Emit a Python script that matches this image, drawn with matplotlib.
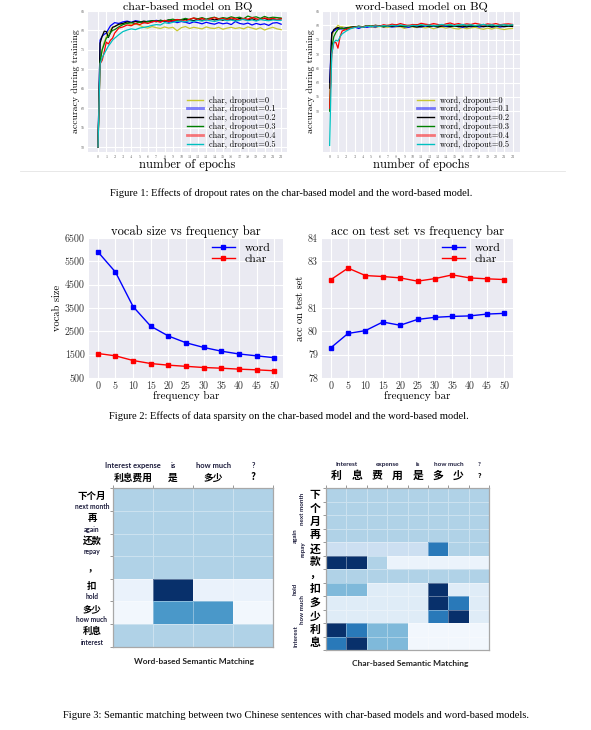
import matplotlib
matplotlib.use('Agg')
import matplotlib.pyplot as plt
from matplotlib.lines import Line2D
from matplotlib import transforms as mtrans

# ---------------- data ----------------
epochs = [0, 0.25, 0.5, 0.75, 1, 1.25, 1.5, 1.75, 2, 2.5, 3, 3.5, 4, 4.5, 5, 5.5, 6, 6.5,
          7, 7.5, 8, 8.5, 9, 9.5, 10, 10.5, 11, 11.5, 12, 12.5, 13, 13.5, 14, 14.5, 15, 15.5,
          16, 16.5, 17, 17.5, 18, 18.5, 19, 19.5, 20, 20.5, 21, 21.5, 22]
epoch_ticks = list(range(23))
acc_ticks = [50, 55, 60, 65, 70, 75, 80, 85]

char_d0 = [50, 72, 75, 77, 78.4, 79.5, 80.2, 80.8, 81.0, 81.5, 81.6, 81.9, 81.4, 81.7, 81.3, 80.8, 80.6, 81.0, 80.7,
           80.5, 80.9, 80.6, 80.8, 79.9, 80.7, 81.0, 80.5, 80.8, 80.6, 80.4, 80.9, 80.6, 80.5, 80.8, 80.3, 80.6, 80.8,
           80.5, 80.7, 80.4, 80.9, 80.6, 80.3, 80.7, 80.1, 80.5, 80.8, 80.4, 80.2]
char_d1 = [50, 77.5, 78.5, 79, 79.3, 80.3, 81.2, 81.6, 82.0, 81.8, 82.2, 82.4, 82.1, 82.5, 82.3, 82.0, 82.4, 82.2, 82.6,
           82.3, 82.5, 82.1, 82.4, 82.0, 82.3, 82.1, 81.8, 82.2, 82.0, 81.7, 82.1, 81.8, 81.6, 82.0, 81.7, 81.9, 81.5,
           82.3, 81.8, 81.6, 81.9, 81.4, 81.8, 81.5, 81.7, 81.3, 81.9, 82.0, 81.6]
char_d2 = [50, 76.7, 78.5, 79.8, 79.7, 78.2, 79.5, 80.8, 81.0, 81.6, 81.8, 82.2, 82.0, 82.3, 82.1, 82.4, 82.2, 82.5, 82.3,
           82.6, 82.4, 82.7, 82.5, 82.8, 82.6, 82.9, 82.7, 82.5, 82.9, 82.6, 82.8, 83.0, 82.7, 82.9, 82.6, 83.0, 82.8,
           82.6, 83.1, 82.8, 82.7, 83.0, 82.6, 82.9, 83.1, 82.7, 82.9, 82.8, 83.0]
char_d3 = [50, 71.8, 75, 76.5, 78.0, 78.5, 79.4, 80.0, 80.2, 80.9, 81.5, 81.8, 82.0, 81.7, 82.2, 82.0, 82.3, 82.5, 82.2,
           82.6, 82.4, 82.7, 82.9, 82.6, 82.8, 83.1, 82.8, 83.2, 83.0, 83.3, 82.9, 83.2, 83.4, 83.0, 83.3, 83.1, 83.5,
           83.2, 83.4, 83.0, 83.7, 83.3, 83.5, 83.1, 83.6, 83.2, 83.4, 83.3, 83.2]
char_d4 = [50, 71.4, 72.3, 74.5, 77.0, 76.5, 77.5, 78.0, 79.3, 80.6, 80.9, 81.4, 81.2, 81.8, 81.5, 82.0, 81.8, 82.2, 82.4,
           82.1, 82.6, 82.3, 82.5, 82.8, 82.6, 82.4, 82.9, 83.2, 82.8, 83.1, 82.7, 83.0, 83.3, 82.9, 83.1, 82.8, 83.2,
           83.0, 82.7, 83.1, 82.9, 83.3, 83.0, 82.8, 83.2, 82.9, 83.1, 82.8, 83.0]
char_d5 = [50, 71.4, 73.0, 74.0, 75.0, 76.0, 76.7, 77.5, 78.0, 78.9, 79.7, 80.1, 80.4, 80.2, 80.6, 80.8, 81.0, 81.3, 81.5,
           81.4, 82.0, 81.8, 82.1, 82.3, 82.4, 82.2, 82.5, 82.3, 82.6, 82.4, 82.7, 82.5, 82.3, 82.6, 82.8, 82.5, 82.7,
           82.4, 82.6, 82.9, 82.5, 82.7, 82.4, 82.8, 82.6, 82.5, 82.7, 82.6, 82.6]

word_d0 = [50, 76, 78, 79, 80.0, 79.5, 79.5, 79.3, 79.2, 79.5, 79.4, 79.6, 79.3, 79.7, 79.5, 79.2, 79.6, 79.4, 79.3,
           79.6, 79.4, 79.5, 78.9, 79.3, 79.5, 79.2, 79.4, 79.1, 79.3, 78.8, 79.2, 79.4, 79.0, 79.3, 78.9, 78.7, 79.2,
           78.8, 79.1, 79.3, 78.9, 78.6, 79.0, 78.7, 79.1, 78.8, 78.5, 78.8, 78.9]
word_d1 = [60, 77.5, 78, 78.5, 79.0, 78.8, 78.7, 79.0, 79.1, 79.2, 79.4, 78.9, 79.5, 79.3, 79.6, 79.4, 79.8, 79.5, 79.7,
           79.4, 79.6, 79.8, 79.5, 79.3, 79.7, 79.6, 79.4, 79.8, 79.5, 79.7, 79.4, 79.9, 79.6, 79.5, 79.8, 79.6, 79.3,
           79.7, 79.5, 79.8, 79.4, 79.6, 79.9, 79.5, 79.7, 79.4, 79.6, 79.8, 79.7]
word_d2 = [58, 77, 78.5, 79, 79.2, 79.0, 79.0, 78.8, 79.0, 79.3, 79.5, 79.6, 79.4, 79.8, 79.6, 79.9, 79.7, 79.5, 79.8,
           79.6, 79.9, 79.7, 79.5, 79.8, 79.6, 79.4, 79.7, 79.9, 79.6, 79.8, 79.5, 79.7, 79.9, 79.6, 79.8, 79.5, 79.7,
           79.4, 79.8, 79.6, 79.9, 79.5, 79.7, 79.4, 79.6, 79.8, 79.5, 79.7, 79.6]
word_d3 = [50, 72, 76, 77.5, 78.5, 78.8, 79.0, 78.7, 79.0, 79.2, 79.4, 79.7, 79.5, 79.9, 79.7, 80.0, 79.8, 79.6, 80.0,
           79.8, 80.1, 79.9, 79.7, 80.0, 79.8, 80.2, 79.9, 80.1, 79.8, 80.0, 79.7, 80.2, 79.9, 80.1, 79.8, 80.0, 80.2,
           79.9, 80.1, 79.8, 80.0, 80.3, 79.9, 80.1, 79.8, 80.0, 80.2, 79.9, 80.1]
word_d4 = [51, 70, 74, 74, 72.0, 76, 78, 78.3, 78.5, 79.0, 79.3, 79.6, 79.4, 79.8, 79.5, 80.0, 79.7, 80.2, 79.9,
           80.4, 80.1, 80.6, 80.2, 79.9, 80.3, 80.1, 80.7, 80.4, 80.2, 80.6, 80.3, 80.0, 80.5, 80.8, 80.3, 80.6, 80.2,
           80.5, 80.3, 80.7, 80.4, 80.1, 80.5, 80.3, 80.6, 80.2, 80.4, 80.5, 80.3]
word_d5 = [38, 70, 74, 74.8, 74.5, 76, 77, 77.5, 78, 78.8, 79.2, 79.5, 79.3, 79.7, 79.5, 79.8, 79.6, 79.9, 79.7,
           80.0, 79.8, 80.1, 79.9, 79.7, 80.0, 79.8, 80.2, 79.9, 80.1, 79.8, 80.0, 80.3, 80.0, 80.2, 79.9, 80.1, 80.3,
           80.0, 80.2, 79.9, 80.1, 80.3, 80.0, 80.2, 79.9, 80.1, 80.2, 80.0, 80.2]

dropout_labels = ['0', '0.1', '0.2', '0.3', '0.4', '0.5']

freq_bar = [0, 5, 10, 15, 20, 25, 30, 35, 40, 45, 50]
vocab_word = [5910, 5040, 3560, 2720, 2300, 2010, 1810, 1650, 1530, 1450, 1370]
vocab_char = [1550, 1450, 1250, 1120, 1050, 1000, 950, 920, 880, 850, 810]
vocab_ticks = [500, 1500, 2500, 3500, 4500, 5500, 6500]
acc_word = [79.29, 79.91, 80.03, 80.40, 80.26, 80.51, 80.60, 80.64, 80.66, 80.74, 80.77]
acc_char = [82.21, 82.71, 82.39, 82.35, 82.29, 82.15, 82.26, 82.42, 82.29, 82.25, 82.22]
acctest_ticks = [78, 79, 80, 81, 83, 84]

word_cols_en = ['Interest expense', 'is', 'how much', '?']
word_cols_zh = ['利息费用', '是', '多少', '?']
word_rows_zh = ['下个月', '再', '还款', '，', '扣', '多少', '利息']
word_rows_en = ['next month', 'again', 'repay', '', 'hold', 'how much', 'interest']
word_match = [
    [0.32, 0.32, 0.32, 0.32],
    [0.32, 0.32, 0.32, 0.32],
    [0.32, 0.32, 0.32, 0.32],
    [0.32, 0.32, 0.32, 0.32],
    [0.07, 1.00, 0.07, 0.07],
    [0.03, 0.60, 0.60, 0.03],
    [0.32, 0.32, 0.32, 0.32],
]

char_cols_zh = ['利', '息', '费', '用', '是', '多', '少', '?']
char_cols_en = [('Interest', 0, 2), ('expense', 2, 4), ('is', 4, 5), ('how much', 5, 7), ('?', 7, 8)]
char_rows_zh = ['下', '个', '月', '再', '还', '款', '，', '扣', '多', '少', '利', '息']
char_rows_en = [('next month', 0, 3), ('again', 3, 4), ('repay', 4, 5),
                ('hold', 7, 8), ('how much', 8, 10), ('Interest', 10, 12)]
char_match = [
    [0.32, 0.32, 0.32, 0.32, 0.32, 0.32, 0.32, 0.32],
    [0.32, 0.32, 0.32, 0.32, 0.32, 0.32, 0.32, 0.32],
    [0.32, 0.32, 0.32, 0.32, 0.32, 0.32, 0.32, 0.32],
    [0.32, 0.32, 0.32, 0.32, 0.32, 0.32, 0.32, 0.32],
    [0.22, 0.22, 0.22, 0.22, 0.22, 0.72, 0.32, 0.32],
    [1.00, 1.00, 0.32, 0.06, 0.06, 0.06, 0.06, 0.06],
    [0.32, 0.32, 0.32, 0.32, 0.32, 0.32, 0.32, 0.32],
    [0.45, 0.45, 0.12, 0.12, 0.12, 1.00, 0.12, 0.12],
    [0.12, 0.12, 0.12, 0.12, 0.12, 1.00, 0.72, 0.12],
    [0.12, 0.12, 0.12, 0.12, 0.12, 0.72, 1.00, 0.12],
    [1.00, 0.72, 0.45, 0.45, 0.03, 0.03, 0.03, 0.03],
    [0.72, 1.00, 0.45, 0.45, 0.03, 0.03, 0.03, 0.03],
]

# ---------------- layout helpers ----------------
W, H = 591, 730
fig = plt.figure(figsize=(W / 100, H / 100), dpi=100)
fig.patch.set_facecolor('white')


def rect(x0, y0, x1, y1):
    return [x0 / W, 1 - y1 / H, (x1 - x0) / W, (y1 - y0) / H]


def fx(x):
    return x / W


def fy(y):
    return 1 - y / H


SERIF = ['cmr10', 'DejaVu Serif']
CAPF = ['Liberation Serif', 'DejaVu Serif']
SANS = ['Lato', 'Noto Sans CJK SC', 'DejaVu Sans']
CJK = ['Noto Sans CJK SC', 'DejaVu Sans']
LBL = '#1c1c3c'


def darkgrid(ax):
    ax.set_facecolor('#EAEAF2')
    ax.grid(True, color='white', lw=0.8)
    ax.set_axisbelow(True)
    for s in ax.spines.values():
        s.set_visible(False)
    ax.tick_params(length=0)


# ---------------- Figure 1 ----------------
colors = ['#c8c830', '#0000ff', '#000000', '#008000', '#ff0000', '#00c0c0']


def dropout_plot(box, series, prefix, title, ylim, xlim):
    ax = fig.add_axes(rect(*box))
    darkgrid(ax)
    for vals, c in zip(series, colors):
        ax.plot(epochs[:len(vals)], vals, color=c, lw=0.9)
    ax.set_xlim(*xlim)
    ax.set_ylim(*ylim)
    ax.set_xticks(epoch_ticks)
    ax.set_xticklabels([str(t) for t in epoch_ticks], fontsize=3, color='#666666', family=SERIF)
    ax.set_yticks(acc_ticks)
    ax.set_yticklabels([str(t) for t in acc_ticks], fontsize=3, color='#666666', family=SERIF)
    ax.tick_params(pad=2)
    ax.text(0.5, fy(6.5), title, transform=mtrans.blended_transform_factory(ax.transAxes, fig.transFigure),
            ha='center', va='center', fontsize=8.6, family=SERIF)
    ax.set_xlabel('number of epochs', fontsize=9, family=SERIF, labelpad=-0.5)
    ax.set_ylabel('accuracy during training', fontsize=7, family=SERIF, labelpad=1)
    handles = []
    for i, c in enumerate(colors):
        if i in (1, 4):
            handles.append(Line2D([], [], color=c, lw=2.0, alpha=0.5))
        else:
            handles.append(Line2D([], [], color=c, lw=1.0))
    ax.legend(handles, [f'{prefix}, dropout={d}' for d in dropout_labels], loc='lower right',
              bbox_to_anchor=(0.96, 0.0), borderaxespad=0, frameon=False,
              prop={'family': SERIF, 'size': 6}, handlelength=2.0, handletextpad=0.7,
              labelspacing=0.05)
    return ax


dropout_plot((88, 11, 287, 152), [char_d0, char_d1, char_d2, char_d3, char_d4, char_d5],
             'char', 'char-based model on BQ', (48.7, 85), (-1.2, 22.7))
dropout_plot((323, 11, 520, 152), [word_d0, word_d1, word_d2, word_d3, word_d4, word_d5],
             'word', 'word-based model on BQ', (35.7, 85), (-0.8, 22.9))

fig.add_artist(Line2D([fx(20), fx(565)], [fy(171), fy(171)], color='#e4e4e4', lw=0.6))
fig.text(fx(291), fy(193), 'Figure 1: Effects of dropout rates on the char-based model and the word-based model.',
         ha='center', va='center', fontsize=7.6, family=CAPF)

# ---------------- Figure 2 ----------------


def sparsity_plot(box, title, ylabel, yticks, ylim, series):
    ax = fig.add_axes(rect(*box))
    darkgrid(ax)
    ax.plot(freq_bar, series[0], color='#0000ff', marker='s', ms=3.2, lw=1.0, label='word')
    ax.plot(freq_bar, series[1], color='#ff0000', marker='s', ms=3.2, lw=1.0, label='char')
    ax.set_ylim(*ylim)
    ax.set_yticks(yticks)
    ax.set_yticklabels([str(t) for t in yticks], fontsize=7.2, family=SERIF, color='#333333')
    ax.set_xticks(freq_bar)
    ax.set_xticklabels([str(t) for t in freq_bar], fontsize=7.2, family=SERIF, color='#333333')
    ax.tick_params(axis='y', pad=3)
    ax.tick_params(axis='x', pad=2.5)
    ax.set_title(title, fontsize=9, family=SERIF, pad=2)
    ax.set_xlabel('frequency bar', fontsize=8, family=SERIF, labelpad=0)
    ax.set_ylabel(ylabel, fontsize=7.5, family=SERIF, labelpad=2)
    ax.legend(loc='upper right', bbox_to_anchor=(0.96, 1.0), borderaxespad=0, frameon=False,
              prop={'family': SERIF, 'size': 8.5}, handlelength=2.0, labelspacing=0.1,
              handletextpad=0.8)
    return ax


sparsity_plot((89, 238, 283, 378), 'vocab size vs frequency bar', 'vocab size', vocab_ticks, (500, 6500),
              (vocab_word, vocab_char))
sparsity_plot((322, 238, 513, 378), 'acc on test set vs frequency bar', 'acc on test set', acctest_ticks, (78, 84),
              (acc_word, acc_char))

fig.text(fx(289), fy(416), 'Figure 2: Effects of data sparsity on the char-based model and the word-based model.',
         ha='center', va='center', fontsize=7.6, family=CAPF)

# ---------------- Figure 3 ----------------


def heatmap(box, vals):
    ax = fig.add_axes(rect(*box))
    nr, nc = len(vals), len(vals[0])
    ax.pcolormesh(vals, cmap='Blues', vmin=0, vmax=1, edgecolors=(1, 1, 1, 0.35), linewidth=0.5)
    ax.set_xlim(0, nc)
    ax.set_ylim(nr, 0)
    ax.set_yticks(range(nr + 1))
    ax.set_xticks(range(nc + 1))
    ax.tick_params(left=True, top=True, bottom=False, right=False, length=2.5, width=0.6,
                   color='#888888', labelleft=False, labelbottom=False, labeltop=False)
    for s in ax.spines.values():
        s.set_color('#a8a8a8')
        s.set_linewidth(0.9)
    return ax


# word-based heatmap
axw = heatmap((112.7, 488.3, 273.3, 646.7), word_match)
tw_top = mtrans.blended_transform_factory(axw.transData, fig.transFigure)
for j, (en, zh) in enumerate(zip(word_cols_en, word_cols_zh)):
    axw.text(j + 0.5, fy(465.7), en, transform=tw_top, ha='center', va='center', fontsize=5.4,
             family=SANS, weight='bold', color=LBL)
    axw.text(j + 0.5, fy(477.5), zh, transform=tw_top, ha='center', va='center', fontsize=7,
             family=CJK, weight='bold', color='black')
tw_left = mtrans.blended_transform_factory(fig.transFigure, axw.transData)
for i, (zh, en) in enumerate(zip(word_rows_zh, word_rows_en)):
    if en:
        axw.text(fx(92), i + 0.32, zh, transform=tw_left, ha='center', va='center', fontsize=6.8,
                 family=CJK, weight='bold', color='black')
        axw.text(fx(92), i + 0.80, en, transform=tw_left, ha='center', va='center', fontsize=4.8,
                 family=SANS, weight='bold', color=LBL)
    else:
        axw.text(fx(92), i + 0.5, zh, transform=tw_left, ha='center', va='center', fontsize=6.8,
                 family=CJK, weight='bold', color='black')
fig.text(fx(194), fy(661.5), 'Word-based Semantic Matching', ha='center', va='center', fontsize=6,
         family=SANS, weight='bold', color='#222222')

# char-based heatmap
axc = heatmap((326, 488.3, 489.3, 650), char_match)
tc_top = mtrans.blended_transform_factory(axc.transData, fig.transFigure)
for en, a, b in char_cols_en:
    axc.text((a + b) / 2, fy(464), en, transform=tc_top, ha='center', va='center', fontsize=4.6,
             family=SANS, weight='bold', color=LBL)
for j, zh in enumerate(char_cols_zh):
    axc.text(j + 0.5, fy(475.5), zh, transform=tc_top, ha='center', va='center',
             fontsize=7.8 if zh != '?' else 5, family=CJK, weight='bold', color='black')
tc_left = mtrans.blended_transform_factory(fig.transFigure, axc.transData)
for i, zh in enumerate(char_rows_zh):
    axc.text(fx(315), i + 0.5, zh, transform=tc_left, ha='center', va='center', fontsize=7.8,
             family=CJK, weight='bold', color='black')
for k, (en, a, b) in enumerate(char_rows_en):
    xpos = 303 if k % 2 == 0 else 295.5
    axc.text(fx(xpos), (a + b) / 2, en, transform=tc_left, ha='center', va='center', fontsize=4.5,
             rotation=90, family=SANS, weight='bold', color=LBL)
fig.text(fx(410), fy(663.5), 'Char-based Semantic Matching', ha='center', va='center', fontsize=6,
         family=SANS, weight='bold', color='#222222')

fig.text(fx(296), fy(715), 'Figure 3: Semantic matching between two Chinese sentences with char-based models and word-based models.',
         ha='center', va='center', fontsize=7.6, family=CAPF)

fig.savefig('out.png', dpi=100, facecolor='white')
